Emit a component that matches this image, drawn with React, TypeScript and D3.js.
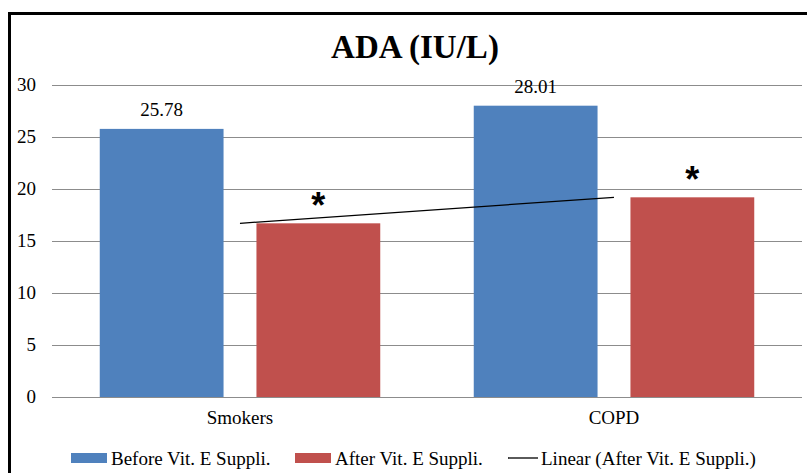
import React from 'react';
import * as d3 from 'd3';

const categories = ['Smokers', 'COPD'];
const seriesNames = ['Before Vit. E Suppli.', 'After Vit. E Suppli.'];
const beforeValues = [25.78, 28.01];
const afterValues = [16.7, 19.2];
const dataLabels = ['25.78', '28.01'];
const yTicks = [0, 5, 10, 15, 20, 25, 30];
const trendName = 'Linear (After Vit. E Suppli.)';

const W = 807;
const H = 473;
const colors = ['#4f81bd', '#c0504d'];
const font = 'Liberation Serif';

const x0 = d3.scaleBand<string>()
  .domain(categories)
  .range([53, 801])
  .paddingInner(0.25)
  .paddingOuter(0.125);

const x1 = d3.scaleBand<number>()
  .domain([0, 1])
  .range([0, x0.bandwidth()])
  .paddingInner(0.21);

const y = d3.scaleLinear().domain([0, 30]).range([397, 85]);

// linear trend of the "after" series (least squares over index 1..n)
const xs = afterValues.map((_, i) => i + 1);
const mx = d3.mean(xs)!;
const my = d3.mean(afterValues)!;
const slope = d3.sum(xs, (xv, i) => (xv - mx) * (afterValues[i] - my)) /
  d3.sum(xs, xv => (xv - mx) ** 2);
const icpt = my - slope * mx;
const cx = (i: number) => x0(categories[i])! + x0.bandwidth() / 2;

const legendItems = [
  { x: 71, name: seriesNames[0], kind: 'rect', color: colors[0] },
  { x: 295, name: seriesNames[1], kind: 'rect', color: colors[1] },
  { x: 508, name: trendName, kind: 'line', color: '#000' },
];

const App: React.FC = () => {
  const series = [beforeValues, afterValues];
  const ly = 458;
  return (
    <svg width={W} height={H}
      style={{ position: 'absolute', left: 0, top: 0, display: 'block' }}>
      {/* outer frame */}
      <rect x={9.5} y={13.5} width={820} height={480} fill="#fff" stroke="#000" strokeWidth={3} />

      <text x={415} y={58} textAnchor="middle" fontFamily={font} fontWeight="bold" fontSize={33}>
        ADA (IU/L)
      </text>

      {/* gridlines */}
      {yTicks.map(t => (
        <line key={t} x1={52} x2={802} y1={y(t) + 0.5} y2={y(t) + 0.5}
          stroke="#8c8c8c" strokeWidth={1.2} />
      ))}

      {/* y tick labels */}
      {yTicks.map(t => (
        <text key={t} x={36} y={y(t) + 6} textAnchor="end" fontFamily={font} fontSize={19}>{t}</text>
      ))}

      {/* bars */}
      {series.map((vals, si) => vals.map((v, i) => (
        <rect key={`${si}-${i}`}
          x={x0(categories[i])! + x1(si)!}
          y={y(v)}
          width={x1.bandwidth()}
          height={y(0) - y(v)}
          fill={colors[si]} />
      )))}

      {/* data labels */}
      {beforeValues.map((v, i) => (
        <text key={i} x={x0(categories[i])! + x1(0)! + x1.bandwidth() / 2} y={y(v) - 13}
          textAnchor="middle" fontFamily={font} fontSize={19}>{dataLabels[i]}</text>
      ))}

      {/* asterisks */}
      {afterValues.map((v, i) => (
        <text key={i} x={x0(categories[i])! + x1(1)! + x1.bandwidth() / 2} y={y(v) - 5}
          textAnchor="middle" fontFamily="Liberation Sans" fontWeight="bold" fontSize={36}>*</text>
      ))}

      {/* trend line */}
      <line x1={cx(0)} y1={y(icpt + slope * 1)} x2={cx(1)} y2={y(icpt + slope * 2)}
        stroke="#000" strokeWidth={1.3} />

      {/* category labels */}
      {categories.map(c => (
        <text key={c} x={x0(c)! + x0.bandwidth() / 2} y={424} textAnchor="middle"
          fontFamily={font} fontSize={19}>{c}</text>
      ))}

      {/* legend */}
      {legendItems.map(it => (
        <g key={it.name}>
          {it.kind === 'rect'
            ? <rect x={it.x} y={ly - 5} width={36} height={10} fill={it.color} />
            : <line x1={it.x} x2={it.x + 30} y1={ly} y2={ly} stroke={it.color} strokeWidth={1.3} />}
          <text x={it.x + (it.kind === 'rect' ? 40 : 33)} y={ly + 7} fontFamily={font} fontSize={19}>
            {it.name}
          </text>
        </g>
      ))}
    </svg>
  );
};

export default App;
